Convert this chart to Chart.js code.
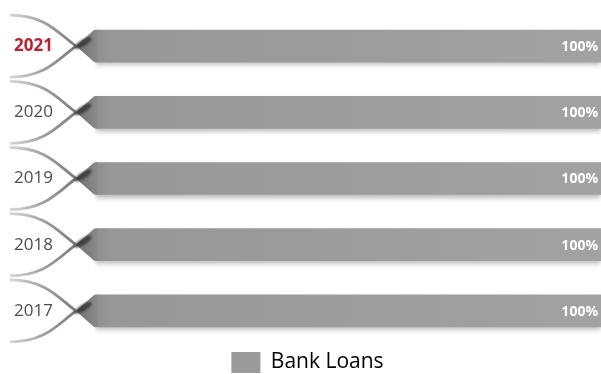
<!DOCTYPE html>
<html>
<head>
<meta charset="utf-8">
<script src="https://cdn.jsdelivr.net/npm/chart.js@4"></script>
<style>
  html, body { margin: 0; padding: 0; background: #fff; }
  #wrap { width: 601px; height: 374px; }
</style>
</head>
<body>
<div id="wrap"><canvas id="loans-chart"></canvas></div>
<script>
const years = ['2021', '2020', '2019', '2018', '2017'];
const bankLoans = [100, 100, 100, 100, 100];
const seriesName = 'Bank Loans';

const FONT = "'Open Sans', 'Noto Sans', sans-serif";

// bar fill: a bit darker at the left end
function barFill(ctx) {
  const area = ctx.chart.chartArea;
  if (!area) return '#9b9b9b';
  const g = ctx.chart.ctx.createLinearGradient(area.left, 0, area.right, 0);
  g.addColorStop(0, '#8e8e8e');
  g.addColorStop(0.03, '#979797');
  g.addColorStop(1, '#a2a2a2');
  return g;
}

// soft drop shadow under the bars
const barShadow = {
  id: 'barShadow',
  beforeDatasetDraw(chart) {
    const c = chart.ctx;
    c.save();
    c.shadowColor = 'rgba(0,0,0,0.28)';
    c.shadowBlur = 5;
    c.shadowOffsetY = 3;
  },
  afterDatasetDraw(chart) {
    chart.ctx.restore();
  }
};

// twisted ribbon in front of each bar + value text at the right end
const ribbon = {
  id: 'ribbon',
  afterDatasetsDraw(chart) {
    const c = chart.ctx;
    const area = chart.chartArea;
    const meta = chart.getDatasetMeta(0);
    meta.data.forEach((bar, i) => {
      const y = bar.y;
      const half = bar.height / 2;
      const x0 = 10, xc = 76, xb = area.left + 1;

      c.save();
      // flare from the twist to the bar end
      const wg = c.createLinearGradient(xc, 0, xb + 8, 0);
      wg.addColorStop(0, '#707070');
      wg.addColorStop(1, '#929292');
      c.fillStyle = wg;
      c.beginPath();
      c.moveTo(xc, y);
      c.lineTo(xb - 2, y - half);
      c.lineTo(xb + 2, y - half);
      c.lineTo(xb + 2, y + half);
      c.lineTo(xb - 2, y + half);
      c.closePath();
      c.fill();

      // the two crossing strands
      const sg = c.createLinearGradient(x0, 0, xc, 0);
      sg.addColorStop(0, 'rgba(185,185,185,0.6)');
      sg.addColorStop(0.5, 'rgba(155,155,155,0.95)');
      sg.addColorStop(1, '#7a7a7a');
      c.strokeStyle = sg;
      c.lineWidth = 2.8;
      c.beginPath();
      c.moveTo(x0, y - 31);
      c.bezierCurveTo(46, y - 31, 58, y - 13, xc, y);
      c.moveTo(x0, y + 31);
      c.bezierCurveTo(46, y + 31, 58, y + 13, xc, y);
      c.stroke();

      // dark knot at the twist
      c.filter = 'blur(1.2px)';
      c.fillStyle = 'rgba(45,45,45,0.75)';
      c.beginPath();
      c.ellipse(83, y - 3, 10, 3.2, -0.55, 0, Math.PI * 2);
      c.fill();
      c.filter = 'none';
      c.restore();

      // value label
      c.save();
      c.font = 'bold 14px ' + FONT;
      c.fillStyle = '#ffffff';
      c.textAlign = 'right';
      c.textBaseline = 'middle';
      c.fillText(bankLoans[i] + '%', area.right - 3, y + 1);
      c.restore();
    });
  }
};

new Chart(document.getElementById('loans-chart'), {
  type: 'bar',
  data: {
    labels: years,
    datasets: [{
      label: seriesName,
      data: bankLoans,
      backgroundColor: barFill,
      borderWidth: 0,
      barThickness: 32
    }]
  },
  options: {
    indexAxis: 'y',
    responsive: true,
    maintainAspectRatio: false,
    animation: false,
    layout: {
      padding: { left: 14, right: 0, top: 13, bottom: -9 }
    },
    scales: {
      x: {
        display: false,
        min: 0,
        max: 100
      },
      y: {
        grid: { display: false },
        border: { display: false },
        afterFit(scale) { scale.width = 81; },
        ticks: {
          crossAlign: 'far',
          padding: 0,
          color: (ctx) => ctx.index === 0 ? '#c41e2e' : '#4d4d4d',
          font: (ctx) => ({
            family: FONT,
            size: 17,
            weight: ctx.index === 0 ? 'bold' : 'normal'
          })
        }
      }
    },
    plugins: {
      legend: {
        position: 'bottom',
        labels: {
          boxWidth: 29,
          boxHeight: 21,
          padding: 8,
          color: '#555555',
          font: { family: FONT, size: 21 },
          generateLabels(chart) {
            return [{
              text: seriesName,
              fillStyle: '#9a9a9a',
              strokeStyle: '#9a9a9a',
              lineWidth: 0,
              datasetIndex: 0
            }];
          }
        }
      },
      tooltip: { enabled: false }
    }
  },
  plugins: [barShadow, ribbon]
});
</script>
</body>
</html>
